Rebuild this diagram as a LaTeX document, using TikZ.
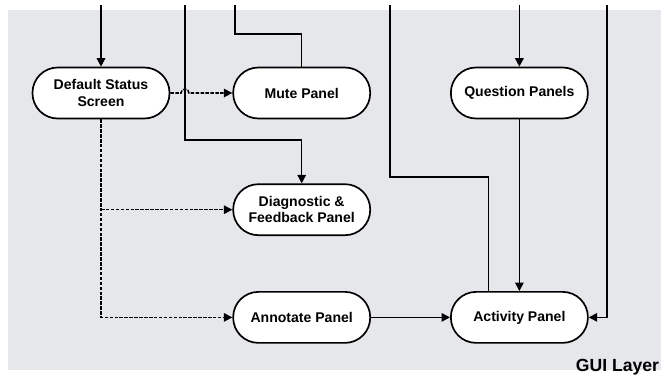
\documentclass[tikz,border=0pt]{standalone}
\usepackage{fontspec}
\setmainfont{Liberation Sans}
\usepackage{tikz}
\usetikzlibrary{arrows.meta,positioning}

\definecolor{scangray}{HTML}{E6E7EB}

\begin{document}
\begin{tikzpicture}[node distance=1.6cm and 1.55cm,>={Triangle[length=6pt,width=6pt]}]
  \tikzstyle{panel}=[draw,line width=1.2pt,rounded corners=0.63cm,fill=white,minimum width=3.425cm,minimum height=1.275cm,align=center,font=\fontsize{10}{11.5}\selectfont\bfseries]
  \tikzstyle{flow}=[line width=1.1pt]
  \tikzstyle{opt}=[line width=1.1pt,dash pattern=on 2.5pt off 1pt]
  \useasboundingbox (0,0) rectangle (16.525,-9.6);
  \fill[scangray] (0.2,-0.25) rectangle (16.525,-9.25);
  \node[panel] (status) at (2.525,-2.325) {Default Status\\Screen};
  \node[panel,right=of status] (mute) {Mute Panel};
  \node[panel,right=1.975cm of mute] (question) {Question Panels};
  \node[panel,below=of mute] (diag) {Diagnostic \&\\Feedback Panel};
  \node[panel,below=1.375cm of diag] (annot) {Annotate Panel};
  \node[panel] (activity) at (question |- annot) {Activity Panel};
  \node[font=\fontsize{12.5}{14}\selectfont\bfseries,anchor=east,inner sep=0pt] (gui) at (16.48,-9.17) {GUI Layer};
  % inputs from the layer above
  \coordinate (top) at (0,-0.125);
  \coordinate (diagin) at (4.625,-0.125);
  \coordinate (diagturn) at (4.625,-3.5);
  \coordinate (mutein) at (5.875,-0.125);
  \coordinate (muteturn) at (5.875,-0.85);
  \coordinate (actin) at (9.75,-0.125);
  \coordinate (actturn) at (9.75,-4.425);
  \coordinate (sidein) at (15.175,-0.125);
  \coordinate (hop) at (diagturn |- status.east);
  \draw[flow,->] (status.north |- top) -- (status.north);
  \draw[flow,->] (diagin) -- (diagturn) -| (diag.north);
  \draw[flow] (mutein) -- (muteturn) -| (mute.north);
  \draw[flow] (actin) -- (actturn) -| ([xshift=-0.775cm]activity.north);
  \draw[flow,->] (question.north |- top) -- (question.north);
  \draw[flow,->] (sidein) |- (activity.east);
  % panel transitions
  \draw[opt,->] (status.east) -- ([xshift=-0.1cm]hop) arc[start angle=180,end angle=0,radius=0.1cm] -- (mute.west);
  \draw[opt,->] (status.south) |- (annot.west);
  \draw[opt,->] (status.south |- diag.west) -- (diag.west);
  \draw[flow,->] (question.south) -- (activity.north);
  \draw[flow,->] (annot) -- (activity);
\end{tikzpicture}
\end{document}
